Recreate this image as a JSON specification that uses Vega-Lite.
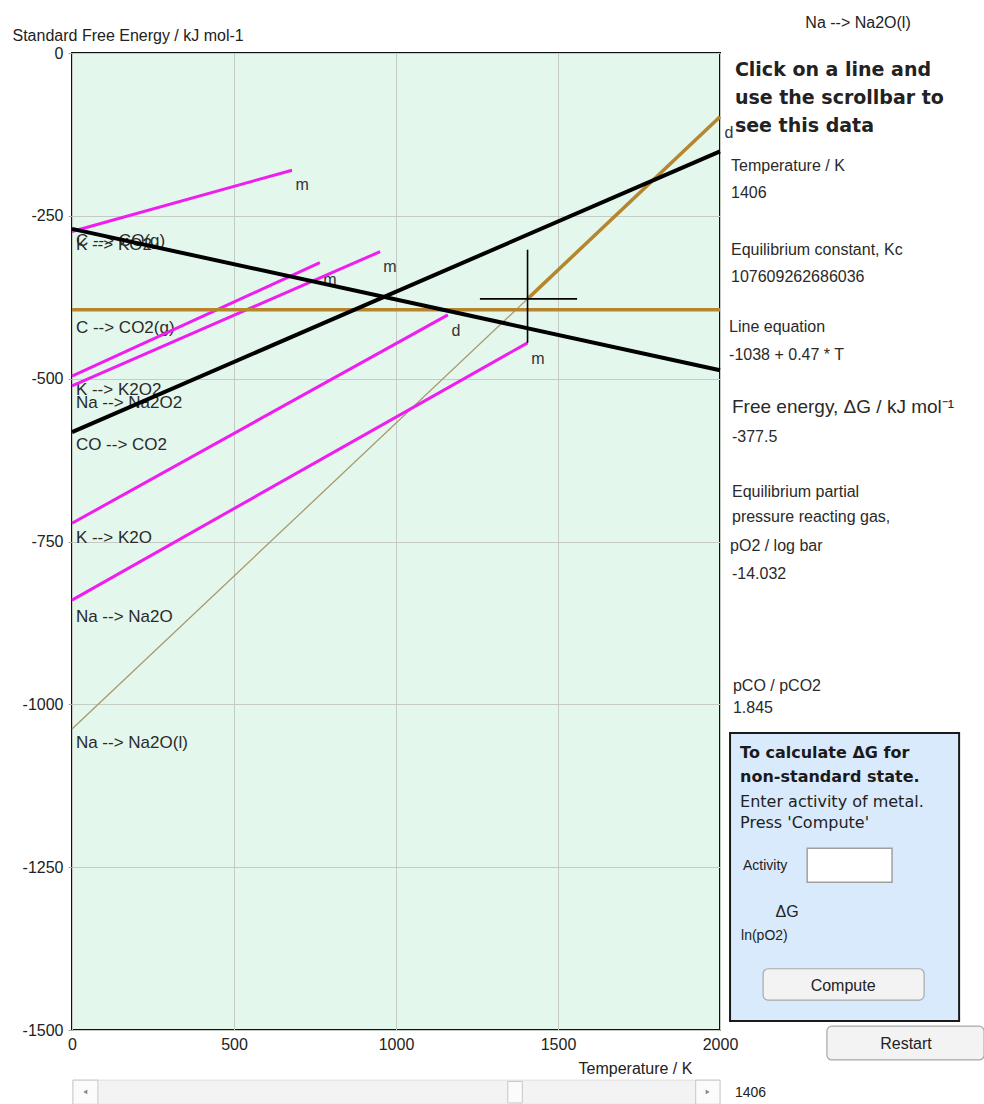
{
  "$schema": "https://vega.github.io/schema/vega-lite/v6.json",
  "width": 648,
  "height": 977,
  "autosize": {"type": "none"},
  "padding": {"left": 72, "top": 53, "right": 264, "bottom": 74},
  "background": "white",
  "config": {
    "view": {"fill": "#e3f7ec", "stroke": "#111111", "strokeWidth": 2},
    "font": "Liberation Sans",
    "axis": {"labelFont": "Liberation Sans", "titleFont": "Liberation Sans", "labelColor": "#222222", "titleColor": "#222222", "labelFontSize": 16, "titleFontSize": 16, "titleFontWeight": "normal", "gridColor": "#c3cbc3", "gridWidth": 1, "domain": false}
  },
  "datasets": {
    "lines": [
      {"line": "K-KO2", "kind": "pink", "T": 0, "G": -274},
      {"line": "K-KO2", "kind": "pink", "T": 679, "G": -180},
      {"line": "K-K2O2", "kind": "pink", "T": 0, "G": -496},
      {"line": "K-K2O2", "kind": "pink", "T": 765, "G": -322},
      {"line": "Na-Na2O2", "kind": "pink", "T": 0, "G": -511},
      {"line": "Na-Na2O2", "kind": "pink", "T": 951, "G": -305},
      {"line": "K-K2O", "kind": "pink", "T": 0, "G": -722},
      {"line": "K-K2O", "kind": "pink", "T": 1160, "G": -402},
      {"line": "Na-Na2O", "kind": "pink", "T": 0, "G": -840},
      {"line": "Na-Na2O", "kind": "pink", "T": 1406, "G": -445},
      {"line": "Na-Na2O(l) extrapolated", "kind": "tan", "T": 0, "G": -1038},
      {"line": "Na-Na2O(l) extrapolated", "kind": "tan", "T": 1406, "G": -377.5},
      {"line": "C-CO2", "kind": "gold", "T": 0, "G": -394},
      {"line": "C-CO2", "kind": "gold", "T": 2000, "G": -394},
      {"line": "Na-Na2O(l)", "kind": "gold", "T": 1406, "G": -377.5},
      {"line": "Na-Na2O(l)", "kind": "gold", "T": 2000, "G": -98},
      {"line": "C-CO", "kind": "black", "T": 0, "G": -270},
      {"line": "C-CO", "kind": "black", "T": 2000, "G": -487},
      {"line": "CO-CO2", "kind": "black", "T": 0, "G": -582},
      {"line": "CO-CO2", "kind": "black", "T": 2000, "G": -151}
    ],
    "lineLabels": [
      {"label": "K --> KO2", "T": 12, "G": -295},
      {"label": "C --> CO(g)", "T": 12, "G": -289},
      {"label": "C --> CO2(g)", "T": 12, "G": -422},
      {"label": "K --> K2O2", "T": 12, "G": -517},
      {"label": "Na --> Na2O2", "T": 12, "G": -537},
      {"label": "CO --> CO2", "T": 12, "G": -602},
      {"label": "K --> K2O", "T": 12, "G": -745},
      {"label": "Na --> Na2O", "T": 12, "G": -866},
      {"label": "Na --> Na2O(l)", "T": 12, "G": -1059}
    ],
    "points": [
      {"label": "m", "T": 710, "G": -203},
      {"label": "m", "T": 796, "G": -348},
      {"label": "m", "T": 981, "G": -328},
      {"label": "d", "T": 1185, "G": -427},
      {"label": "m", "T": 1438, "G": -470},
      {"label": "d", "T": 2028, "G": -123}
    ],
    "cross": [
      {"T": 1406, "G": -302, "T2": 1406, "G2": -445},
      {"T": 1259, "G": -377.5, "T2": 1559, "G2": -377.5}
    ],
    "boxes": [
      {"name": "panel", "T": 2031, "T2": 2738, "G": -1044, "G2": -1486},
      {"name": "input", "T": 2269, "T2": 2531, "G": -1221, "G2": -1273},
      {"name": "button", "T": 2133, "T2": 2630, "G": -1406, "G2": -1454},
      {"name": "button", "T": 2330, "T2": 2815, "G": -1494, "G2": -1546},
      {"name": "track", "T": 3, "T2": 2000, "G": -1577, "G2": -1614},
      {"name": "arrowbox", "T": 3, "T2": 80, "G": -1577, "G2": -1614},
      {"name": "arrowbox", "T": 1925, "T2": 2000, "G": -1577, "G2": -1614},
      {"name": "thumb", "T": 1345, "T2": 1390, "G": -1579, "G2": -1612}
    ],
    "arrows": [
      {"dir": "left", "T": 41, "G": -1595},
      {"dir": "right", "T": 1962, "G": -1595}
    ],
    "panel": [
      {"role": "center", "text": "Na --> Na2O(l)", "T": 2426, "G": 46},
      {"role": "prompt", "text": "Click on a line and", "T": 2046, "G": -26},
      {"role": "prompt", "text": "use the scrollbar to", "T": 2046, "G": -69},
      {"role": "prompt", "text": "see this data", "T": 2046, "G": -112},
      {"role": "label", "text": "Temperature / K", "T": 2034, "G": -173.5},
      {"role": "label", "text": "1406", "T": 2034, "G": -215},
      {"role": "label", "text": "Equilibrium constant, Kc", "T": 2034, "G": -302.5},
      {"role": "label", "text": "107609262686036", "T": 2034, "G": -344},
      {"role": "label", "text": "Line equation", "T": 2028, "G": -421},
      {"role": "label", "text": "-1038 + 0.47 * T", "T": 2028, "G": -464},
      {"role": "heading", "text": "Free energy, ΔG / kJ mol⁻¹", "T": 2037, "G": -543.5},
      {"role": "label", "text": "-377.5", "T": 2037, "G": -590},
      {"role": "label", "text": "Equilibrium partial", "T": 2037, "G": -674},
      {"role": "label", "text": "pressure reacting gas,", "T": 2037, "G": -712},
      {"role": "label", "text": "pO2 / log bar", "T": 2031, "G": -757},
      {"role": "label", "text": "-14.032", "T": 2037, "G": -800},
      {"role": "label", "text": "pCO / pCO2", "T": 2040, "G": -972},
      {"role": "label", "text": "1.845", "T": 2040, "G": -1006},
      {"role": "boxhead", "text": "To calculate ΔG for", "T": 2062, "G": -1075},
      {"role": "boxhead", "text": "non-standard state.", "T": 2062, "G": -1112},
      {"role": "boxtext", "text": "Enter activity of metal.", "T": 2062, "G": -1150},
      {"role": "boxtext", "text": "Press 'Compute'", "T": 2062, "G": -1182},
      {"role": "small", "text": "Activity", "T": 2071, "G": -1248},
      {"role": "center", "text": "ΔG", "T": 2207, "G": -1319},
      {"role": "small", "text": "ln(pO2)", "T": 2065, "G": -1356},
      {"role": "center", "text": "Compute", "T": 2380, "G": -1432},
      {"role": "center", "text": "Restart", "T": 2574, "G": -1521.5},
      {"role": "small", "text": "1406", "T": 2046, "G": -1597}
    ]
  },
  "encoding": {
    "x": {"field": "T", "type": "quantitative", "scale": {"domain": [0, 2000], "nice": false, "zero": false},
      "axis": {"values": [0, 500, 1000, 1500, 2000], "labelExpr": "datum.value + ''", "ticks": false, "labelPadding": 6, "labelFlush": false, "labelBound": false, "grid": true,
        "title": "Temperature / K", "titleX": 563, "titleY": 38, "titleAlign": "center", "titleBaseline": "middle"}},
    "y": {"field": "G", "type": "quantitative", "scale": {"domain": [-1500, 0], "nice": false, "zero": false},
      "axis": {"values": [0, -250, -500, -750, -1000, -1250, -1500], "labelExpr": "datum.value + ''", "ticks": true, "tickSize": 4, "tickColor": "#aaaaaa", "labelPadding": 5, "labelFlush": false, "grid": true,
        "title": "Standard Free Energy / kJ mol-1", "titleAngle": 0, "titleAlign": "left", "titleBaseline": "middle", "titleX": -60, "titleY": -18}}
  },
  "layer": [
    {"data": {"name": "lineLabels"}, "mark": {"type": "text", "align": "left", "baseline": "middle", "fontSize": 17, "color": "#2a2a2a"}, "encoding": {"text": {"field": "label"}}},
    {"data": {"name": "points"}, "mark": {"type": "text", "align": "center", "baseline": "middle", "fontSize": 16, "color": "#333333"}, "encoding": {"text": {"field": "label"}}},
    {"data": {"name": "lines"}, "transform": [{"filter": "datum.kind === 'tan'"}], "mark": {"type": "line", "color": "#a8996a", "strokeWidth": 1.3}, "encoding": {"detail": {"field": "line"}, "order": {"field": "T"}}},
    {"data": {"name": "lines"}, "transform": [{"filter": "datum.kind === 'pink'"}], "mark": {"type": "line", "color": "#f01cf0", "strokeWidth": 3}, "encoding": {"detail": {"field": "line"}, "order": {"field": "T"}}},
    {"data": {"name": "lines"}, "transform": [{"filter": "datum.kind === 'gold'"}], "mark": {"type": "line", "color": "#b5862e", "strokeWidth": 3.5}, "encoding": {"detail": {"field": "line"}, "order": {"field": "T"}}},
    {"data": {"name": "lines"}, "transform": [{"filter": "datum.kind === 'black'"}], "mark": {"type": "line", "color": "#000000", "strokeWidth": 4}, "encoding": {"detail": {"field": "line"}, "order": {"field": "T"}}},
    {"data": {"name": "cross"}, "mark": {"type": "rule", "color": "#000000", "strokeWidth": 1.6}, "encoding": {"x2": {"field": "T2"}, "y2": {"field": "G2"}}},
    {"data": {"name": "boxes"}, "transform": [{"filter": "datum.name === 'panel'"}], "mark": {"type": "rect", "fill": "#d9eafc", "stroke": "#1a1a1a", "strokeWidth": 2}, "encoding": {"x2": {"field": "T2"}, "y2": {"field": "G2"}}},
    {"data": {"name": "boxes"}, "transform": [{"filter": "datum.name === 'input'"}], "mark": {"type": "rect", "fill": "#ffffff", "stroke": "#a0a0a0", "strokeWidth": 1.5}, "encoding": {"x2": {"field": "T2"}, "y2": {"field": "G2"}}},
    {"data": {"name": "boxes"}, "transform": [{"filter": "datum.name === 'button'"}], "mark": {"type": "rect", "fill": "#f3f3f3", "stroke": "#a8a8a8", "strokeWidth": 1.2, "cornerRadius": 5}, "encoding": {"x2": {"field": "T2"}, "y2": {"field": "G2"}}},
    {"data": {"name": "boxes"}, "transform": [{"filter": "datum.name === 'track'"}], "mark": {"type": "rect", "fill": "#f3f3f3", "stroke": "#dddddd", "strokeWidth": 1}, "encoding": {"x2": {"field": "T2"}, "y2": {"field": "G2"}}},
    {"data": {"name": "boxes"}, "transform": [{"filter": "datum.name === 'arrowbox' || datum.name === 'thumb'"}], "mark": {"type": "rect", "fill": "#fbfbfb", "stroke": "#c8c8c8", "strokeWidth": 1}, "encoding": {"x2": {"field": "T2"}, "y2": {"field": "G2"}}},
    {"data": {"name": "arrows"}, "transform": [{"filter": "datum.dir === 'left'"}], "mark": {"type": "point", "shape": "triangle-left", "filled": true, "color": "#555555", "size": 22}},
    {"data": {"name": "arrows"}, "transform": [{"filter": "datum.dir === 'right'"}], "mark": {"type": "point", "shape": "triangle-right", "filled": true, "color": "#555555", "size": 22}},
    {"data": {"name": "panel"}, "transform": [{"filter": "datum.role === 'prompt'"}], "mark": {"type": "text", "align": "left", "baseline": "middle", "font": "DejaVu Sans", "fontWeight": "bold", "fontSize": 19, "color": "#222222"}, "encoding": {"text": {"field": "text"}}},
    {"data": {"name": "panel"}, "transform": [{"filter": "datum.role === 'label'"}], "mark": {"type": "text", "align": "left", "baseline": "middle", "fontSize": 16, "color": "#2a2a2a"}, "encoding": {"text": {"field": "text"}}},
    {"data": {"name": "panel"}, "transform": [{"filter": "datum.role === 'heading'"}], "mark": {"type": "text", "align": "left", "baseline": "middle", "fontSize": 19, "color": "#2a2a2a"}, "encoding": {"text": {"field": "text"}}},
    {"data": {"name": "panel"}, "transform": [{"filter": "datum.role === 'boxhead'"}], "mark": {"type": "text", "align": "left", "baseline": "middle", "font": "DejaVu Sans", "fontWeight": "bold", "fontSize": 16, "color": "#1a1a1a"}, "encoding": {"text": {"field": "text"}}},
    {"data": {"name": "panel"}, "transform": [{"filter": "datum.role === 'boxtext'"}], "mark": {"type": "text", "align": "left", "baseline": "middle", "font": "DejaVu Sans", "fontSize": 16, "color": "#222222"}, "encoding": {"text": {"field": "text"}}},
    {"data": {"name": "panel"}, "transform": [{"filter": "datum.role === 'small'"}], "mark": {"type": "text", "align": "left", "baseline": "middle", "fontSize": 14, "color": "#222222"}, "encoding": {"text": {"field": "text"}}},
    {"data": {"name": "panel"}, "transform": [{"filter": "datum.role === 'center'"}], "mark": {"type": "text", "align": "center", "baseline": "middle", "fontSize": 16, "color": "#222222"}, "encoding": {"text": {"field": "text"}}}
  ]
}
